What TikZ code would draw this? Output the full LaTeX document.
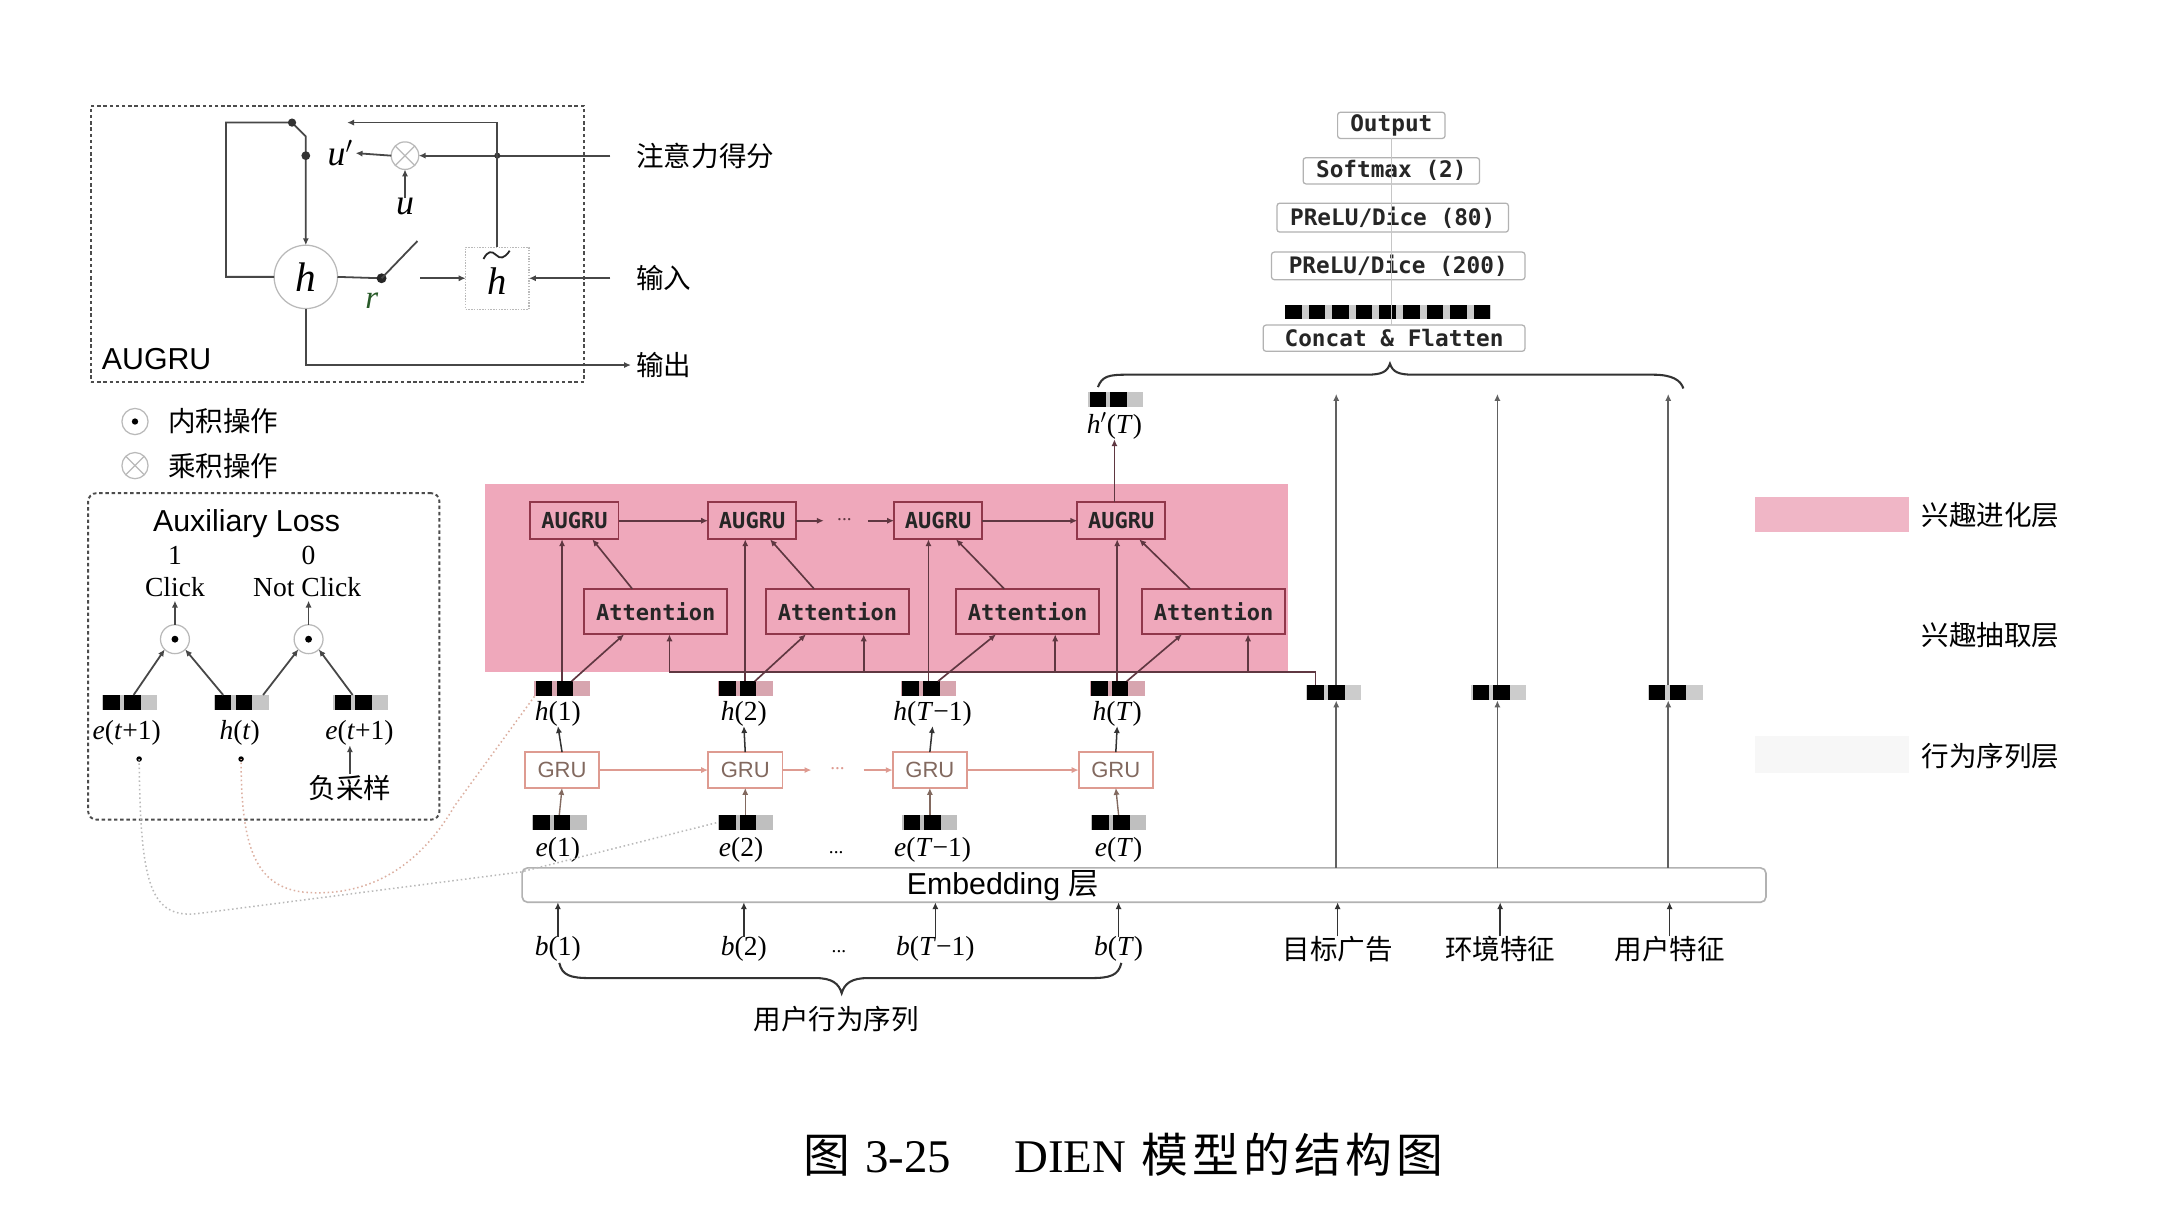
\documentclass[tikz,border=0pt]{standalone}
\usepackage{fontspec}
\setmainfont{Liberation Serif}
\newfontfamily\cjkf{Noto Sans CJK SC}
\newfontfamily\monof{DejaVu Sans Mono}
\newfontfamily\sansf{Liberation Sans}
\usetikzlibrary{arrows.meta,calc}
\definecolor{pinkreg}{RGB}{239,168,187}
\definecolor{pinkleg}{RGB}{240,182,198}
\definecolor{augb}{RGB}{145,55,75}
\definecolor{darkl}{RGB}{95,55,65}
\definecolor{grul}{RGB}{222,155,145}
\definecolor{grut}{RGB}{130,105,95}
\definecolor{hbar}{RGB}{215,165,175}
\definecolor{rgreen}{RGB}{40,90,40}
\definecolor{orl}{RGB}{220,175,160}
\newcommand\mkblock[3]{%
  \node[fill=#3, minimum width=40pt, minimum height=11pt] (#1) at (#2) {};
  \fill ($(#1.north west)+(1,0)$) rectangle ($(#1.south west)+(13,0)$);
  \fill ($(#1.north west)+(16,0)$) rectangle ($(#1.south west)+(28,0)$);
}
\begin{document}
\begin{tikzpicture}[x=1pt,y=-1pt,
  every node/.style={inner sep=0pt, outer sep=0pt},
  cjk/.style={font=\cjkf\fontsize{20}{24}\selectfont},
  ser/.style={font=\fontsize{20}{24}\selectfont},
  arr/.style={-{Latex[length=5pt,width=4.5pt]}},
  cell/.style={draw=black!72, line width=1.3},
  dashbox/.style={draw=black!70, line width=1.4, dash pattern=on 2.5pt off 2pt},
  opc/.style={circle, draw=gray!55, line width=0.9},
  augbox/.style={draw=augb, line width=1.4, fill=pinkreg, minimum width=64pt, minimum height=27pt, font=\monof\bfseries\fontsize{16}{16}\selectfont, text=black!85},
  attbox/.style={augbox, minimum width=104pt, minimum height=33pt},
  grubox/.style={draw=grul, line width=1.3, fill=white, minimum width=54pt, minimum height=26pt, font=\sansf\fontsize{16}{16}\selectfont, text=grut},
  mlp/.style={draw=gray!60, line width=0.9, rounded corners=2pt, fill=white, font=\monof\bfseries\fontsize{16.5}{16.5}\selectfont, text=black!85},
  inl/.style={draw=darkl, line width=1.2},
  grl/.style={draw=grul, line width=1.5},
  vline/.style={draw=black!62, line width=1.3},
  thin/.style={draw=grut, line width=1}
]
\fill[white] (0,0) rectangle (1568,891);
\useasboundingbox (0,0) rectangle (1568,891);

% ---------------- AUGRU cell ----------------
\node[dashbox, minimum width=358pt, minimum height=200pt, anchor=north west] (cellbox) at (66,77) {};
\node[opc, minimum size=46pt, font=\fontsize{30}{30}\selectfont\itshape] (hc) at (222,201) {h};
\node[opc, minimum size=20pt] (ox) at (294,113) {};
\draw[gray!55, line width=0.9] (ox.north west) -- (ox.south east) (ox.north east) -- (ox.south west);
\node[draw=gray!55, densely dotted, line width=1, minimum width=46pt, minimum height=45pt, font=\fontsize{28}{28}\selectfont\itshape, text depth=0pt] (ht) at (361,202) {\raisebox{-4pt}{h}};
\draw[black!85, line width=1.3] (351,188) .. controls (354,182) and (357,182) .. (360,185) .. controls (363,188) and (366,188) .. (370,182);
\node[font=\fontsize{26}{26}\selectfont] (up) at (247,111) {\textit{u}$'$};
\node[font=\fontsize{26}{26}\selectfont] (ul) at (294,150) {\textit{u}};
\node[font=\fontsize{24}{24}\selectfont, text=rgreen] (rl) at (270,218) {\textit{r}};
\coordinate (lpA) at (164,89);
\coordinate (lpB) at (212,89);
\coordinate (lpC) at (222,99);
\draw[cell, arr] (hc.west) -| (lpA) -- (lpB) -- (lpC) -- (hc.north);
\fill[black!80] (lpB) circle (3pt);
\coordinate (jU) at (222,113);
\fill[black!80] (jU) circle (3.2pt);
\coordinate (atin) at (443,113);
\draw[cell, arr] (atin) -- (ox.east);
\coordinate (jH) at (361,113);
\fill[black!80] (jH) circle (2.2pt);
\draw[cell, arr, shorten >=2pt] (ox.west) -- (up.east);
\draw[cell, arr] (ul.north) -- (ox.south);
\coordinate (tpL) at (252,89);
\draw[cell, arr] (ht.north) |- (tpL);
\coordinate (sw) at (277,202);
\draw[cell] (hc.east) -- (sw);
\fill[black!85] (sw) circle (3.6pt);
\coordinate (swT) at (303,175);
\draw[cell] (sw) -- (swT);
\coordinate (swR) at (305,202);
\draw[cell, arr] (swR) -- (ht.west);
\coordinate (inin) at (443,202);
\draw[cell, arr] (inin) -- (ht.east);
\coordinate (outc) at (458,265);
\draw[cell, arr] (hc.south) |- (outc);
\node[cjk, anchor=west] (attsc) at (462,113) {注意力得分};
\node[cjk, anchor=west] (inp) at (462,202) {输入};
\node[cjk, anchor=west] (outl) at (462,265) {输出};
\node[font=\sansf\fontsize{22}{22}\selectfont, anchor=west] (augl) at (74,261) {AUGRU};

% ---------------- legend ----------------
\node[opc, minimum size=19pt] (dl) at (98,306) {};
\fill (dl) circle (2.3pt);
\node[cjk, anchor=west] (dlt) at (122,306) {内积操作};
\node[opc, minimum size=19pt] (cl) at (98,338) {};
\draw[gray!55, line width=0.9] (cl.north west) -- (cl.south east) (cl.north east) -- (cl.south west);
\node[cjk, anchor=west] (clt) at (122,338) {乘积操作};

% ---------------- auxiliary loss ----------------
\node[dashbox, rounded corners=6pt, minimum width=255pt, minimum height=237pt, anchor=north west] (auxbox) at (64,358) {};
\node[font=\sansf\fontsize{22}{22}\selectfont] (auxt) at (179,380) {Auxiliary Loss};
\node[ser] (one) at (127,403) {1};
\node[ser] (zero) at (224,403) {0};
\node[ser] (click) at (127,426) {Click};
\node[ser] (nclick) at (223,426) {Not Click};
\node[opc, minimum size=21pt] (c1) at (127,464) {};
\fill (c1) circle (2.5pt);
\node[opc, minimum size=21pt] (c2) at (224,464) {};
\fill (c2) circle (2.5pt);
\draw[cell, arr, shorten >=3pt] (c1.north) -- (click.south);
\draw[cell, arr, shorten >=3pt] (c2.north) -- (c2.north |- nclick.south);
\mkblock{eL}{94,510}{gray!45}
\mkblock{hT}{175,510}{gray!45}
\mkblock{eR}{262,510}{gray!45}
\draw[cell, arr] ($(eL.north)+(3,0)$) -- (c1.south west);
\draw[cell, arr] ($(hT.north west)+(7,0)$) -- (c1.south east);
\draw[cell, arr] ($(hT.north east)+(-4,0)$) -- (c2.south west);
\draw[cell, arr] ($(eR.north west)+(14,0)$) -- (c2.south east);
\node[ser] (eLl) at (92,532) {\textit{e}(\textit{t}+1)};
\node[ser] (hTl) at (174,532) {\textit{h}(\textit{t})};
\node[ser] (eRl) at (261,532) {\textit{e}(\textit{t}+1)};
\coordinate (dA) at (101,551);
\coordinate (dB) at (175,551);
\fill (dA) circle (2pt);
\fill (dB) circle (2pt);
\node[cjk] (neg) at (254,572) {负采样};
\draw[cell, arr, shorten <=1pt] (neg.north) -- (neg.north |- eRl.south);

% ---------------- interest evolving layer ----------------
\fill[pinkreg] (352,351) rectangle (935,488);
\node[augbox] (a1) at (417,378) {AUGRU};
\node[augbox] (a2) at (546,378) {AUGRU};
\node[augbox] (a3) at (681,378) {AUGRU};
\node[augbox] (a4) at (814,378) {AUGRU};
\node[attbox] (t1) at (476,444) {Attention};
\node[attbox] (t2) at (608,444) {Attention};
\node[attbox] (t3) at (746,444) {Attention};
\node[attbox] (t4) at (881,444) {Attention};
\draw[inl, arr] (a1.east) -- (a2.west);
\coordinate (ad1) at (598,378);
\coordinate (ad2) at (630,378);
\draw[inl, arr] (a2.east) -- (ad1);
\node[font=\fontsize{14}{14}\selectfont, text=darkl] (adots) at (613,377) {...};
\draw[inl, arr] (ad2) -- (a3.west);
\draw[inl, arr] (a3.east) -- (a4.west);

% h blocks
\mkblock{hb1}{408,500}{hbar}
\mkblock{hb2}{541,500}{hbar}
\mkblock{hb3}{674,500}{hbar}
\mkblock{hb4}{811,500}{hbar}
\foreach \i in {1,2,3,4}{
  \draw[inl, arr] (hb\i.north) -- (hb\i.north |- a\i.south);
  \draw[inl, arr] ($(hb\i.north)+(7,0)$) -- ($(t\i.south)+(-23,0)$);
  \draw[inl, arr] ($(t\i.north)+(-17,0)$) -- ($(a\i.south)+(13,0)$);
}
\coordinate (br1) at ($(t1.south)+(10,0)$);
\coordinate (br2) at ($(t2.south)+(19,0)$);
\coordinate (br3) at ($(t3.south)+(20,0)$);
\coordinate (br4) at ($(t4.south)+(25,0)$);
\coordinate (busL) at (486,488);
\coordinate (busR) at (955,488);

% side feature blocks
\mkblock{tb}{968,503}{gray!40}
\mkblock{vb}{1088,503}{gray!40}
\mkblock{ub}{1216,503}{gray!40}
\draw[inl] (busL) -- (busR) -- (busR |- tb.north);
\foreach \i in {1,2,3,4}{
  \draw[inl, arr] (br\i |- busL) -- (br\i);
}

% ---------------- behavior layer ----------------
\node[grubox] (g1) at (408,559) {GRU};
\node[grubox] (g2) at (541,559) {GRU};
\node[grubox] (g3) at (675,559) {GRU};
\node[grubox] (g4) at (810,559) {GRU};
\draw[grl, arr] (g1.east) -- (g2.west);
\coordinate (gd1) at (589,559);
\coordinate (gd2) at (627,559);
\draw[grl, arr] (g2.east) -- (gd1);
\node[font=\fontsize{14}{14}\selectfont, text=grul] (gdots) at (608,558) {...};
\draw[grl, arr] (gd2) -- (g3.west);
\draw[grl, arr] (g3.east) -- (g4.west);
\node[ser] (hl1) at (405,518) {\textit{h}(1)};
\node[ser] (hl2) at (540,518) {\textit{h}(2)};
\node[ser] (hl3) at (677,518) {\textit{h}(\textit{T}−1)};
\node[ser] (hl4) at (811,518) {\textit{h}(\textit{T})};
\mkblock{eb1}{406,597}{gray!50}
\mkblock{eb2}{541,597}{gray!50}
\mkblock{eb3}{675,597}{gray!50}
\mkblock{eb4}{812,597}{gray!50}
\node[ser] (el1) at (405,617) {\textit{e}(1)};
\node[ser] (el2) at (538,617) {\textit{e}(2)};
\node[ser] (el3) at (677,617) {\textit{e}(\textit{T}−1)};
\node[ser] (el4) at (812,617) {\textit{e}(\textit{T})};
\node[font=\fontsize{14}{14}\selectfont] (edots) at (607,619) {...};
\foreach \i in {1,2,3,4}{
  \draw[black!80, line width=1.1, arr] (g\i.north) -- (hl\i.south);
  \draw[thin, arr] (eb\i.north) -- (g\i.south);
}

% ---------------- embedding ----------------
\node[draw=gray!60, line width=1.2, rounded corners=4pt, minimum width=903pt, minimum height=25pt, anchor=north west] (emb) at (379,630) {};
\node[font=\sansf\fontsize{22}{22}\selectfont] (embt) at (728,643) {Embedding {\cjkf 层}};
\node[ser] (b1) at (405,689) {\textit{b}(1)};
\node[ser] (b2) at (540,689) {\textit{b}(2)};
\node[ser] (b3) at (679,689) {\textit{b}(\textit{T}−1)};
\node[ser] (b4) at (812,689) {\textit{b}(\textit{T})};
\node[font=\fontsize{14}{14}\selectfont] (bdots) at (609,691) {...};
\foreach \i in {1,2,3,4}{
  \draw[black!80, line width=1.1, arr] (b\i.north) -- (b\i.north |- emb.south);
}
\draw[black!80, line width=1.5] (406,699) .. controls (408,708) and (414,710) .. (428,710) -- (592,710) .. controls (604,710) and (609,714) .. (611,721) .. controls (613,714) and (618,710) .. (630,710) -- (792,710) .. controls (806,710) and (812,708) .. (814,699);
\node[cjk] (seqlab) at (607,740) {用户行为序列};

\node[cjk] (lA) at (971,689) {目标广告};
\node[cjk] (lB) at (1089,689) {环境特征};
\node[cjk] (lC) at (1212,689) {用户特征};
\coordinate (topA) at (970,286);
\coordinate (topB) at (1087,286);
\coordinate (topC) at (1211,286);
\draw[black!80, line width=1.1, arr] (lA.north) -- (lA.north |- emb.south);
\draw[black!80, line width=1.1, arr] (lB.north) -- (lB.north |- emb.south);
\draw[black!80, line width=1.1, arr] (lC.north) -- (lC.north |- emb.south);
\draw[vline, arr] (topA |- emb.north) -- (topA |- tb.south);
\draw[vline, arr] (topB |- emb.north) -- (topB |- vb.south);
\draw[vline, arr] (topC |- emb.north) -- (topC |- ub.south);
\draw[vline, arr] (topA |- tb.north) -- (topA);
\draw[vline, arr] (topB |- vb.north) -- (topB);
\draw[vline, arr] (topC |- ub.north) -- (topC);

% h'(T)
\mkblock{hpb}{810,290}{gray!45}
\node[ser] (hpl) at (809,309) {\textit{h}$'$(\textit{T})};
\draw[inl, arr] (a4.north -| hpl) -- (hpl.south);

% top brace
\draw[black!80, line width=1.5] (797,281) .. controls (800,273) and (805,272) .. (818,272) -- (992,272) .. controls (1003,272) and (1007,270) .. (1009,264) .. controls (1011,270) and (1015,272) .. (1026,272) -- (1200,272) .. controls (1214,272) and (1220,276) .. (1222,282);

% ---------------- MLP ----------------
\node[mlp, minimum width=78pt, minimum height=19pt] (outp) at (1010,91) {Output};
\node[mlp, minimum width=128pt, minimum height=19pt] (smx) at (1010,124) {Softmax (2)};
\node[mlp, minimum width=168pt, minimum height=21pt] (p80) at (1011,158) {PReLU/Dice (80)};
\node[mlp, minimum width=184pt, minimum height=20pt] (p200) at (1015,193) {PReLU/Dice (200)};
\node[fill=gray!40, minimum width=149pt, minimum height=10pt] (cvec) at (1007.5,226.5) {};
\foreach \i in {0,...,8}{
  \fill ($(cvec.north west)+(\i*17.1,0)$) rectangle ($(cvec.south west)+(\i*17.1+12,0)$);
}
\node[mlp, minimum width=190pt, minimum height=19pt] (cf) at (1012,245.5) {Concat \& Flatten};
\draw[gray!45, line width=0.6] (cf.north -| outp.south) -- (outp.south);

% ---------------- right legend ----------------
\fill[pinkleg] (1274,361) rectangle (1386,386);
\fill[gray!6] (1274,534) rectangle (1386,561);
\node[cjk, anchor=west] (lg1) at (1395,374) {兴趣进化层};
\node[cjk, anchor=west] (lg2) at (1395,461) {兴趣抽取层};
\node[cjk, anchor=west] (lg3) at (1395,549) {行为序列层};

% ---------------- dotted links ----------------
\draw[gray!55, line width=1.1, dotted] (dA) .. controls (102,640) and (108,668) .. (145,663) -- (378,633) -- (eb2.west);
\draw[orl, line width=1.1, dotted] (hb1.south west) -- (330,585) .. controls (305,628) and (270,650) .. (225,648) .. controls (185,646) and (175,615) .. (dB);

% ---------------- caption ----------------
\node[font=\fontsize{34}{34}\selectfont, anchor=west] (cap) at (583,838) {{\cjkf 图}\hspace{11pt}3-25\hspace{46pt}DIEN\hspace{11pt}{\cjkf 模\kern3pt 型\kern3pt 的\kern3pt 结\kern3pt 构\kern3pt 图}};
\end{tikzpicture}
\end{document}
